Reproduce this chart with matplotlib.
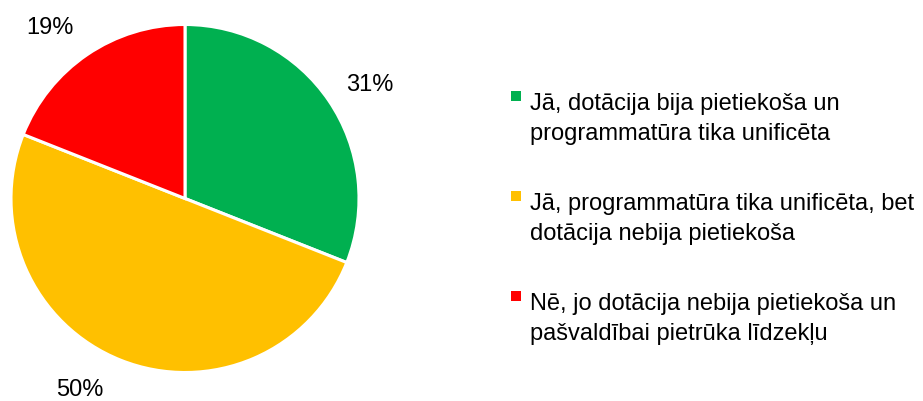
import matplotlib
matplotlib.use('Agg')
import matplotlib.pyplot as plt
from matplotlib.patches import Rectangle

plt.rcParams['font.family'] = ['Liberation Sans', 'DejaVu Sans']

labels = ['Jā, dotācija bija pietiekoša un\nprogrammatūra tika unificēta',
          'Jā, programmatūra tika unificēta, bet\ndotācija nebija pietiekoša',
          'Nē, jo dotācija nebija pietiekoša un\npašvaldībai pietrūka līdzekļu']
values = [31, 50, 19]
colors = ['#00B050', '#FFC000', '#FF0000']

W, H = 923, 402
fig = plt.figure(figsize=(W / 100, H / 100), dpi=100)
ax = fig.add_axes([11 / W, 28.5 / H, 348 / W, 348 / H])

wedges, texts, autotexts = ax.pie(values, colors=colors, startangle=90, counterclock=False,
                                  autopct='%.0f%%', pctdistance=1.25,
                                  wedgeprops=dict(edgecolor='white', linewidth=2.2),
                                  textprops=dict(fontsize=17, color='black', clip_on=False))
ax.set_xlim(-1, 1)
ax.set_ylim(-1, 1)
ax.set_aspect('equal')

# nudge the percentage labels to where the original puts them
label_xy = [(1.063, 0.658), (-0.603, -1.095), (-0.779, 0.986)]
for t, xy in zip(autotexts, label_xy):
    t.set_position(xy)

# legend drawn by hand so the marker sits on the first line
for i, (lab, col) in enumerate(zip(labels, colors)):
    y0 = 110 + 100 * i
    fig.patches.append(Rectangle((511 / W, 1 - (y0 - 8) / H), 10 / W, 10 / H,
                                 transform=fig.transFigure, facecolor=col, edgecolor='none'))
    for j, line in enumerate(lab.split('\n')):
        fig.text(530 / W, 1 - (y0 + 30 * j) / H, line, fontsize=17, va='baseline', ha='left')

fig.savefig('out.png', dpi=100)
